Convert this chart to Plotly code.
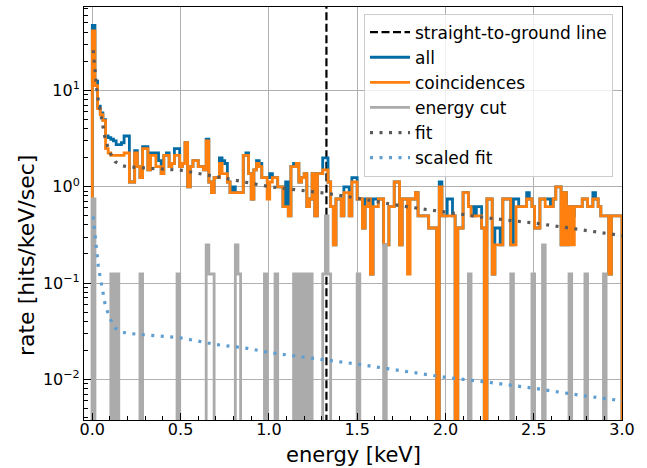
import numpy as np
import plotly.graph_objects as go

# ---------------- data ----------------
BIN_WIDTH_KEV = 0.015          # width of one histogram bin
RATE_PER_COUNT = 0.124         # hits/keV/sec corresponding to one count in a bin

# "all" hits, counts per bin (bins start at 0 keV)
all_counts = [
    380, 100, 55, 47, 40, 27, 26, 25, 24, 22, 22, 23, 27, 27, 9, 9, 19, 13, 10, 21,
    21, 12, 18, 18, 18, 15, 11, 17, 18, 13, 14, 20, 20, 13, 14, 23, 8, 13, 15, 15,
    13, 13, 12, 25, 9, 7, 10, 10, 16, 15, 14, 9, 7, 8, 7, 7, 7, 17, 18, 11,
    6, 12, 15, 14, 10, 10, 10, 11, 10, 10, 8, 8, 5, 9, 4, 13, 14, 14, 9, 10,
    11, 5, 6, 11, 4, 11, 11, 16, 16, 9, 5, 2, 6, 6, 4, 8, 8, 4, 10, 10,
    6, 6, 3, 6, 6, 1, 6, 6, 6, 6, 2, 2, 5, 5, 9, 9, 2, 6, 6, 6,
    6, 6, 7, 4, 4, 4, 4, 3, 3, 3, 0, 9, 4, 4, 6, 6, 4, 0, 3, 3,
    7, 7, 5, 5, 4, 5, 5, 3, 0, 6, 6, 1, 3, 3, 2, 6, 6, 6, 2, 6,
    6, 5, 5, 5, 7, 6, 5, 3, 3, 6, 6, 6, 6, 5, 6, 8, 8, 2, 7, 2,
    5, 4, 5, 5, 5, 6, 6, 5, 5, 7, 6, 5, 4, 4, 4, 1, 4, 4, 4, 4,
]

# "coincidences", counts per bin
coinc_counts = [
    333, 90, 52, 45, 39, 20, 18, 17, 17, 17, 17, 17, 18, 18, 9, 9, 18, 13, 10, 20,
    20, 12, 17, 17, 13, 13, 11, 17, 17, 13, 14, 17, 17, 13, 14, 23, 8, 13, 15, 15,
    13, 13, 12, 24, 9, 7, 10, 10, 14, 11, 11, 9, 7, 7, 7, 7, 7, 17, 17, 11,
    6, 12, 14, 13, 10, 10, 6, 9, 10, 10, 8, 8, 5, 5, 4, 13, 13, 14, 9, 10,
    11, 5, 6, 11, 4, 11, 11, 12, 12, 9, 5, 2, 6, 6, 4, 7, 7, 4, 9, 9,
    6, 6, 3, 5, 6, 1, 5, 5, 6, 6, 2, 2, 5, 5, 9, 9, 2, 6, 6, 1,
    6, 6, 7, 4, 4, 4, 4, 3, 3, 3, 0, 8, 4, 4, 4, 4, 4, 0, 3, 3,
    7, 7, 5, 4, 4, 4, 4, 3, 0, 6, 6, 1, 2, 2, 2, 6, 6, 6, 2, 2,
    5, 5, 5, 5, 6, 6, 5, 3, 3, 6, 6, 5, 5, 5, 6, 8, 8, 2, 7, 2,
    5, 2, 5, 5, 5, 6, 6, 5, 5, 6, 6, 5, 4, 4, 4, 1, 4, 4, 4, 4,
]

# "energy cut": non-empty bins only (bin start energy in keV, counts)
cut_energy = [0.0, 0.105, 0.135, 0.27, 0.48, 0.645, 0.66, 0.675, 0.81, 0.825,
              0.975, 1.035, 1.14, 1.17, 1.2, 1.23, 1.305, 1.32, 1.335, 1.5,
              1.65, 2.13, 2.37, 2.49, 2.55, 2.7, 2.79, 2.895]
cut_counts = [6, 1, 1, 1, 1, 2, 1, 1, 2, 1,
              1, 1, 1, 1, 1, 1, 1, 4, 1, 1,
              2, 1, 1, 1, 2, 1, 1, 1]

# fit curve and scaled fit curve (hits/keV/sec)
fit_energy = [0.005, 0.012, 0.017, 0.025, 0.034, 0.045, 0.057, 0.074, 0.1, 0.13,
              0.17, 0.2, 0.3, 0.5, 0.7, 0.88, 1.0, 1.33, 1.5, 1.75,
              2.0, 2.25, 2.5, 2.75, 3.0]
fit_rate = [26, 19, 13.7, 10.3, 7.9, 6.0, 4.6, 3.06, 2.25, 1.81,
            1.65, 1.6, 1.56, 1.48, 1.27, 1.1, 1.0, 0.85, 0.76, 0.63,
            0.54, 0.47, 0.42, 0.36, 0.31]
scaled_fit_rate = [0.49, 0.36, 0.26, 0.195, 0.15, 0.114, 0.087, 0.058, 0.043, 0.034,
                   0.031, 0.030, 0.029, 0.027, 0.023, 0.021, 0.019, 0.016, 0.0144, 0.0123,
                   0.0105, 0.0093, 0.0081, 0.0069, 0.006]

ground_line_energy = 1.326

x_tick_vals = [0.0, 0.5, 1.0, 1.5, 2.0, 2.5, 3.0]
y_tick_vals = [0.01, 0.1, 1, 10]
y_tick_text = ["10<sup>\u22122</sup>", "10<sup>\u22121</sup>", "10<sup>0</sup>", "10<sup>1</sup>"]

# ---------------- build ----------------
n_bins = len(all_counts)
edges = np.arange(n_bins + 1) * BIN_WIDTH_KEV
FLOOR = 1e-6  # stands in for empty bins on the log axis (below the visible range)

cut_full = np.zeros(n_bins)
for e, c in zip(cut_energy, cut_counts):
    cut_full[int(round(e / BIN_WIDTH_KEV))] = c


def step_xy(counts):
    rates = np.asarray(counts, dtype=float) * RATE_PER_COUNT
    rates[rates <= 0] = FLOOR
    x = np.concatenate([[edges[0]], edges])
    y = np.concatenate([[FLOOR], rates, [FLOOR]])
    return x, y


FONT = "DejaVu Sans"
BLUE = "#006BA4"
ORANGE = "#FF800E"
GRAY = "#ABABAB"
DARK = "#595959"
LIGHTBLUE = "#5F9ED1"

fig = go.Figure()

fig.add_trace(go.Scatter(
    x=[ground_line_energy, ground_line_energy], y=[1e-4, 1e3], mode="lines",
    line=dict(color="black", width=2.2, dash="8px,3.5px"),
    name="straight-to-ground line", legendgroup="g0"))

for counts, color, name, grp in [(all_counts, BLUE, "all", "g1"),
                                 (coinc_counts, ORANGE, "coincidences", "g2"),
                                 (cut_full, GRAY, "energy cut", "g3")]:
    sx, sy = step_xy(counts)
    fig.add_trace(go.Scatter(x=sx, y=sy, mode="lines", line_shape="hv",
                             line=dict(color=color, width=2.8),
                             name=name, legendgroup=grp))

fig.add_trace(go.Scatter(x=fit_energy, y=fit_rate, mode="lines",
                         line=dict(color=DARK, width=3.2, dash="3px,6.5px"),
                         name="fit", legendgroup="g4"))
fig.add_trace(go.Scatter(x=fit_energy, y=scaled_fit_rate, mode="lines",
                         line=dict(color=LIGHTBLUE, width=3.2, dash="3px,6.5px"),
                         name="scaled fit", legendgroup="g5"))

axis_common = dict(
    showline=True, linecolor="black", linewidth=1.1, mirror=True,
    ticks="inside", ticklen=7, tickwidth=1.1, tickcolor="black",
    showgrid=True, gridcolor="#b0b0b0", gridwidth=1,
    tickfont=dict(family=FONT, size=16, color="black"),
    zeroline=False,
)

fig.update_xaxes(
    range=[-0.047, 3.0], tickmode="array", tickvals=x_tick_vals,
    ticktext=[f"{v:.1f}" for v in x_tick_vals],
    ticklabelstandoff=-5,
    minor=dict(ticks="inside", ticklen=3.5, tickwidth=1, tickcolor="black",
               dtick=0.1, tick0=0, showgrid=False),
    **axis_common)

fig.update_yaxes(
    type="log", range=[np.log10(0.00379), np.log10(73)],
    tickmode="array", tickvals=y_tick_vals, ticktext=y_tick_text,
    minor=dict(ticks="inside", ticklen=3.5, tickwidth=1, tickcolor="black",
               dtick="D1", showgrid=False),
    **axis_common)

fig.add_annotation(text="energy [keV]", xref="paper", yref="paper",
                   x=0.5, y=-0.085, xanchor="center", yanchor="middle",
                   showarrow=False, font=dict(family=FONT, size=21, color="black"))
fig.add_annotation(text="rate [hits/keV/sec]", xref="paper", yref="paper",
                   x=-0.1078, y=0.397, xanchor="center", yanchor="middle",
                   textangle=-90, showarrow=False,
                   font=dict(family=FONT, size=22, color="black"))

fig.update_layout(
    width=647, height=468,
    margin=dict(l=84, r=25, t=7, b=48),
    paper_bgcolor="white", plot_bgcolor="white",
    font=dict(family=FONT, color="black"),
    showlegend=True,
    legend=dict(x=0.9833, y=0.984, xanchor="right", yanchor="top",
                bgcolor="rgba(255,255,255,0.8)", bordercolor="#cccccc", borderwidth=1,
                font=dict(family=FONT, size=17, color="black"),
                itemwidth=40, tracegroupgap=3, traceorder="normal"),
)

fig.write_html("out.html", config={"displayModeBar": False},
               post_script="document.body.style.margin='0px';document.body.style.padding='0px';")
